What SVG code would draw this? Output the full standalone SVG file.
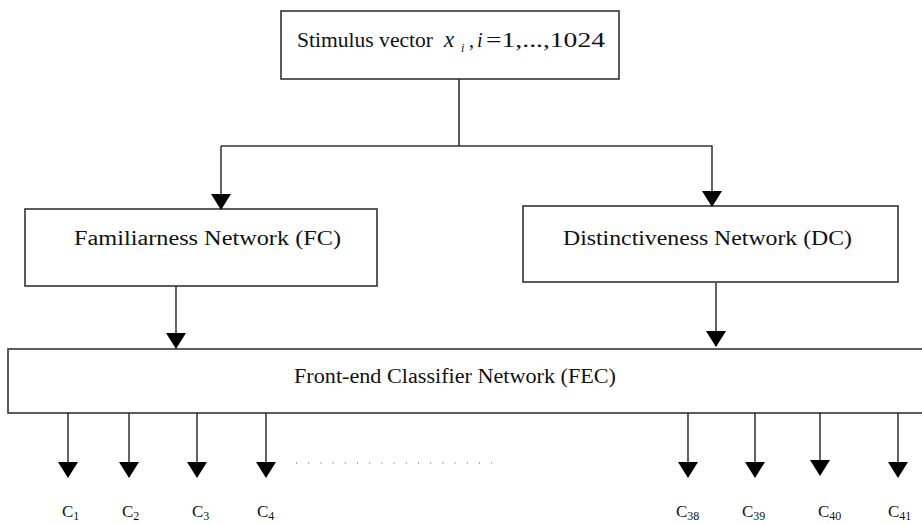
<svg xmlns="http://www.w3.org/2000/svg" width="922" height="524" viewBox="0 0 922 524">
<style>
.box{fill:#fff;stroke:#333;stroke-width:1.6}
.ln{fill:none;stroke:#333;stroke-width:1.6}
.arr{fill:none;stroke:#222;stroke-width:1.4;marker-end:url(#ah)}
</style>
<defs>
<marker id="ah" markerUnits="userSpaceOnUse" viewBox="0 0 16 20" markerWidth="16" markerHeight="20" refX="15" refY="10" orient="auto">
<path d="M0,0 L16,10 L0,20 z" fill="#000"/>
</marker>
</defs>
<rect width="922" height="524" fill="#fff"/>
<g id="stimulus">
<rect class="box" x="281" y="11" width="338" height="68"/>
<text font-family="Liberation Serif, Times New Roman, serif" font-size="20" fill="#111" y="47"><tspan x="297" textLength="136" lengthAdjust="spacingAndGlyphs">Stimulus vector</tspan><tspan x="444" font-style="italic" font-size="23">x</tspan><tspan x="461" y="52" font-style="italic" font-size="12">i</tspan><tspan x="469" y="47">,</tspan><tspan x="477" font-style="italic">i</tspan><tspan x="486" textLength="119" lengthAdjust="spacingAndGlyphs">=1,...,1024</tspan></text>
</g>
<g id="fc">
<rect class="box" x="25" y="209" width="352" height="77"/>
<text font-family="Liberation Serif, Times New Roman, serif" font-size="20" fill="#111" x="74" y="245" textLength="267" lengthAdjust="spacingAndGlyphs">Familiarness Network  (FC)</text>
</g>
<g id="dc">
<rect class="box" x="523" y="206" width="375" height="76"/>
<text font-family="Liberation Serif, Times New Roman, serif" font-size="20" fill="#111" x="563" y="245" textLength="289" lengthAdjust="spacingAndGlyphs">Distinctiveness Network (DC)</text>
</g>
<g id="fec">
<rect class="box" x="8" y="349" width="930" height="64"/>
<text font-family="Liberation Serif, Times New Roman, serif" font-size="20" fill="#111" x="294" y="383" textLength="322" lengthAdjust="spacingAndGlyphs">Front-end Classifier Network  (FEC)</text>
</g>
<g id="connectors">
<path class="ln" d="M459,79 V146 M221,146 H712.5"/>
<path class="arr" d="M221,146 V209"/>
<path class="arr" d="M712,146 V206"/>
<path class="arr" d="M176,286 V348"/>
<path class="arr" d="M716,283 V346"/>
<path class="arr" d="M68,413 V477"/>
<path class="arr" d="M129,413 V477"/>
<path class="arr" d="M197,413 V477"/>
<path class="arr" d="M266,413 V477"/>
<path class="arr" d="M688,413 V477"/>
<path class="arr" d="M755,413 V477"/>
<path class="arr" d="M820,413 V475"/>
<path class="arr" d="M898,413 V477"/>
<line x1="296" y1="463" x2="492" y2="463" stroke="#555" stroke-width="1" stroke-dasharray="1 11.2"/>
</g>
<g id="labels" font-family="Liberation Serif, Times New Roman, serif" font-size="17" fill="#111">
<text x="62" y="517">C<tspan font-size="12" dy="3">1</tspan></text>
<text x="122" y="517">C<tspan font-size="12" dy="3">2</tspan></text>
<text x="192" y="517">C<tspan font-size="12" dy="3">3</tspan></text>
<text x="257" y="517">C<tspan font-size="12" dy="3">4</tspan></text>
<text x="676" y="517">C<tspan font-size="12" dy="3">38</tspan></text>
<text x="742" y="517">C<tspan font-size="12" dy="3">39</tspan></text>
<text x="818" y="517">C<tspan font-size="12" dy="3">40</tspan></text>
<text x="888" y="517">C<tspan font-size="12" dy="3">41</tspan></text>
</g>
</svg>
